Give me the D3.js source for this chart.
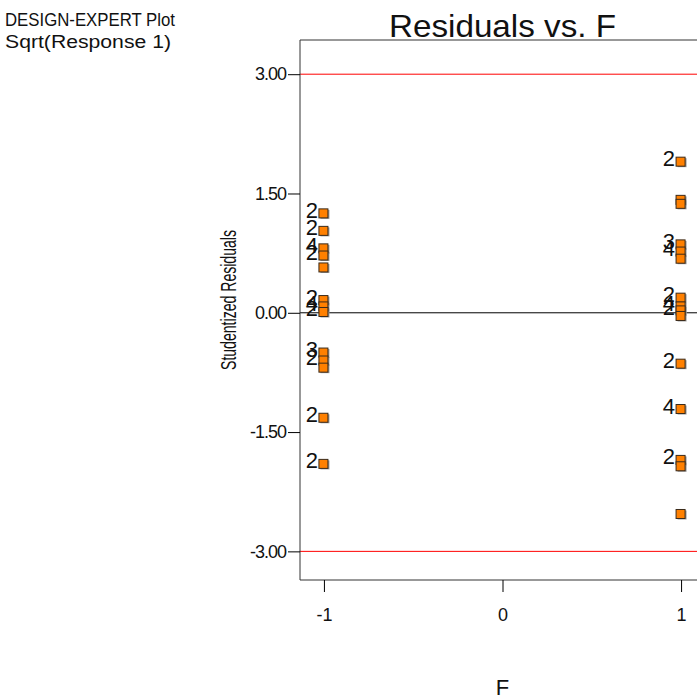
<!DOCTYPE html>
<html>
<head>
<meta charset="utf-8">
<script src="https://cdn.jsdelivr.net/npm/d3@7/dist/d3.min.js"></script>
<style>
  html, body { margin: 0; padding: 0; background: #fff; }
  svg { display: block; font-family: "Liberation Sans", Arial, sans-serif; }
</style>
</head>
<body>
<svg id="chart" width="697" height="700"></svg>
<script>
// Studentized residuals at each level of factor F; counts > 1 mark stacked runs
const levelsF = [-1, 1];
const residualsLow = [1.25, 1.03, 0.81, 0.72, 0.57, 0.16, 0.08, 0.01, -0.50, -0.60, -0.69, -1.32, -1.90];
const countsLow    = [2,    2,    4,    2,    1,    2,    4,    2,    3,     2,     1,     2,     2];
const residualsHigh = [1.90, 1.42, 1.37, 0.86, 0.77, 0.68, 0.19, 0.08, 0.03, -0.04, -0.64, -1.21, -1.85, -1.93, -2.53];
const countsHigh    = [2,    1,    1,    3,    4,    1,    2,    4,    2,    1,     2,     4,     2,     1,     1];
const yTicks = [3.00, 1.50, 0.00, -1.50, -3.00];
const xTicks = [-1, 0, 1];
const limitLines = [3, -3];

const svg = d3.select("#chart");
const plot = { left: 300, top: 40, bottom: 580, right: 705 };

const x = d3.scaleLinear().domain([-1.134, 1.134]).range([plot.left, plot.right]);
const y = d3.scaleLinear().domain([-3.36, 3.43]).range([plot.bottom, plot.top]);

// plain hyphen for negative tick labels
const fmtY = v => d3.format(".2f")(v).replace("\u2212", "-");
const fmtX = v => d3.format("d")(v).replace("\u2212", "-");

// header text
svg.append("text").attr("x", 5).attr("y", 26).attr("font-size", 17.5).attr("fill", "#111")
  .attr("textLength", 170).attr("lengthAdjust", "spacingAndGlyphs")
  .text("DESIGN-EXPERT Plot");
svg.append("text").attr("x", 5).attr("y", 48).attr("font-size", 17.5).attr("fill", "#111")
  .attr("textLength", 166).attr("lengthAdjust", "spacingAndGlyphs")
  .text("Sqrt(Response 1)");
svg.append("text").attr("x", x(0)).attr("y", 37).attr("text-anchor", "middle")
  .attr("font-size", 32).attr("fill", "#111")
  .attr("textLength", 227).attr("lengthAdjust", "spacingAndGlyphs")
  .text("Residuals vs. F");

// limit lines at +/-3
svg.selectAll("line.limit").data(limitLines).join("line")
  .attr("class", "limit")
  .attr("x1", plot.left).attr("x2", plot.right)
  .attr("y1", d => y(d)).attr("y2", d => y(d))
  .attr("stroke", "#ff0000").attr("stroke-width", 1);

// zero line
svg.append("line")
  .attr("x1", plot.left).attr("x2", plot.right)
  .attr("y1", y(0)).attr("y2", y(0))
  .attr("stroke", "#000").attr("stroke-width", 1);

// frame: left, top, bottom
svg.append("path")
  .attr("d", `M${plot.right},${plot.top}H${plot.left}V${plot.bottom}H${plot.right}`)
  .attr("fill", "none").attr("stroke", "#333").attr("stroke-width", 1);

// y axis
const yAxis = svg.append("g").attr("transform", `translate(${plot.left},0)`)
  .call(d3.axisLeft(y).tickValues(yTicks).tickSize(12).tickPadding(2).tickFormat(fmtY));
yAxis.select(".domain").remove();
yAxis.selectAll("line").attr("stroke", "#000");
yAxis.selectAll("text").attr("font-size", 18).attr("fill", "#111")
  .attr("font-family", "Liberation Sans, Arial, sans-serif").attr("letter-spacing", -1);

// x axis
const xAxis = svg.append("g").attr("transform", `translate(0,${plot.bottom})`)
  .call(d3.axisBottom(x).tickValues(xTicks).tickSize(12).tickPadding(16).tickFormat(fmtX));
xAxis.select(".domain").remove();
xAxis.selectAll("line").attr("stroke", "#000");
xAxis.selectAll("text").attr("font-size", 18).attr("fill", "#111")
  .attr("font-family", "Liberation Sans, Arial, sans-serif");

// axis titles
svg.append("text").attr("x", x(0)).attr("y", 695).attr("text-anchor", "middle")
  .attr("font-size", 22).attr("fill", "#111").text("F");
svg.append("text")
  .attr("transform", `translate(236,${300}) rotate(-90)`)
  .attr("text-anchor", "middle").attr("font-size", 22).attr("fill", "#111")
  .attr("textLength", 140).attr("lengthAdjust", "spacingAndGlyphs")
  .text("Studentized Residuals");

// points
const points = [];
residualsLow.forEach((v, i) => points.push({ f: levelsF[0], r: v, n: countsLow[i] }));
residualsHigh.forEach((v, i) => points.push({ f: levelsF[1], r: v, n: countsHigh[i] }));

const s = 9;
const g = svg.append("g");
// soft shadow
g.selectAll("rect.shadow").data(points).join("rect")
  .attr("class", "shadow")
  .attr("x", d => x(d.f) - s / 2 + 1).attr("y", d => y(d.r) - s / 2 + 1)
  .attr("width", s).attr("height", s)
  .attr("fill", "#9a9a9a");
g.selectAll("rect.pt").data(points).join("rect")
  .attr("class", "pt")
  .attr("x", d => x(d.f) - s / 2 - 0.5).attr("y", d => y(d.r) - s / 2)
  .attr("width", s).attr("height", s)
  .attr("fill", "#ff8000").attr("stroke", "#3a2a1a").attr("stroke-width", 1);

// count labels for stacked runs
g.selectAll("text.cnt").data(points.filter(d => d.n > 1)).join("text")
  .attr("class", "cnt")
  .attr("x", d => x(d.f) - s / 2 - 1.5).attr("y", d => y(d.r) + s / 2)
  .attr("text-anchor", "end").attr("font-size", 22).attr("fill", "#111")
  .text(d => d.n);
</script>
</body>
</html>
